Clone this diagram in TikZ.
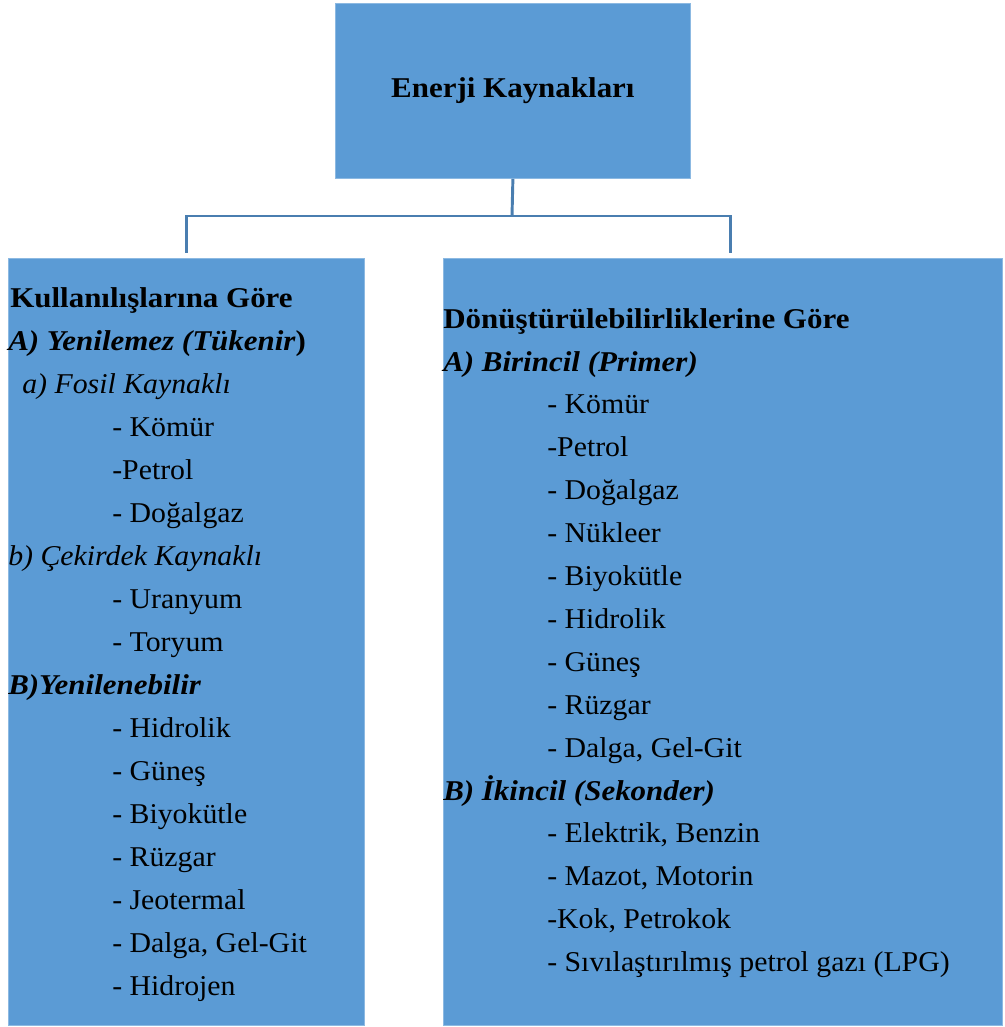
\documentclass[tikz,border=0pt]{standalone}
\usepackage{fontspec}
\setmainfont{Liberation Serif}[FakeStretch=1.08]
\newfontfamily\duzfont{Liberation Serif}[FakeStretch=1.04]
\usetikzlibrary{positioning}
\definecolor{kutumavi}{HTML}{5B9BD5}
\definecolor{cizgimavi}{HTML}{4A7EB0}
\tikzset{
  kutu/.style={fill=kutumavi, draw=kutumavi!70!white, line width=0.6pt, inner sep=0pt, anchor=north west},
  baglanti/.style={draw=cizgimavi, line width=2.2pt},
  satir/.style={anchor=base west, inner sep=0pt, font=\duzfont\fontsize{21.5}{26}\selectfont},
  baslik/.style={satir, font=\fontsize{21.5}{26}\selectfont\bfseries},
  altbaslik/.style={satir, font=\fontsize{21.5}{26}\selectfont\bfseries\itshape},
  grup/.style={satir, font=\duzfont\fontsize{21.5}{26}\selectfont\itshape}
}

\begin{document}
\begin{tikzpicture}[x=0.75pt,y=-0.75pt]
  \useasboundingbox (0,0) rectangle (1004,1027);

  % kutular
  \node[kutu, minimum width=266.25pt, minimum height=131.25pt,
        font=\fontsize{21.5}{26}\selectfont\bfseries] (ana) at (335,3) {Enerji Kaynakları};
  \node[kutu, minimum width=267pt, minimum height=575.25pt] (sol) at (8,258) {};
  \node[kutu, minimum width=419.25pt, minimum height=575.25pt] (sag) at (443,258) {};

  % bağlantılar
  \coordinate (kavsak) at (512,216);
  \draw[baglanti] (ana.south) -- (kavsak);
  \draw[baglanti, shorten >=3.75pt] (kavsak) -| (sol.north);
  \draw[baglanti, shorten >=3.75pt] (kavsak) -| ([xshift=5.6pt]sag.north);

  % sol kutu: kullanılışlarına göre
  \node[baslik] (solbaslik) at (10,307) {Kullanılışlarına Göre};
  \node[altbaslik] (solA) at (8,350) {A) Yenilemez (Tükenir\/{\upshape )}};
  \node[grup] (fosil) at (22,393) {a) Fosil Kaynaklı};
  \node[grup] (cekirdek) at (8,565) {b) Çekirdek Kaynaklı};
  \node[altbaslik] (solB) at (8,694) {B)Yenilenebilir};
  \foreach \k/\metin in {3/- Kömür, 4/-Petrol, 5/- Doğalgaz, 7/- Uranyum, 8/- Toryum,
      10/- Hidrolik, 11/- Güneş, 12/- Biyokütle, 13/- Rüzgar, 14/- Jeotermal,
      15/{- Dalga, Gel-Git}, 16/- Hidrojen}
    \node[satir] (sol\k) at (112,307+43*\k) {\metin};

  % sağ kutu: dönüştürülebilirliklerine göre
  \node[baslik] (sagbaslik) at (443,328) {Dönüştürülebilirliklerine Göre};
  \node[altbaslik] (sagA) at (443,371) {A) Birincil (Primer)};
  \node[altbaslik] (sagB) at (443,800) {B) İkincil (Sekonder)};
  \foreach \k/\metin in {2/- Kömür, 3/-Petrol, 4/- Doğalgaz, 5/- Nükleer, 6/- Biyokütle,
      7/- Hidrolik, 8/- Güneş, 9/- Rüzgar, 10/{- Dalga, Gel-Git},
      12/{- Elektrik, Benzin}, 13/{- Mazot, Motorin}, 14/{-Kok, Petrokok},
      15/- Sıvılaştırılmış petrol gazı (LPG)}
    \node[satir] (sag\k) at (547,328+42.9*\k) {\metin};
\end{tikzpicture}
\end{document}
